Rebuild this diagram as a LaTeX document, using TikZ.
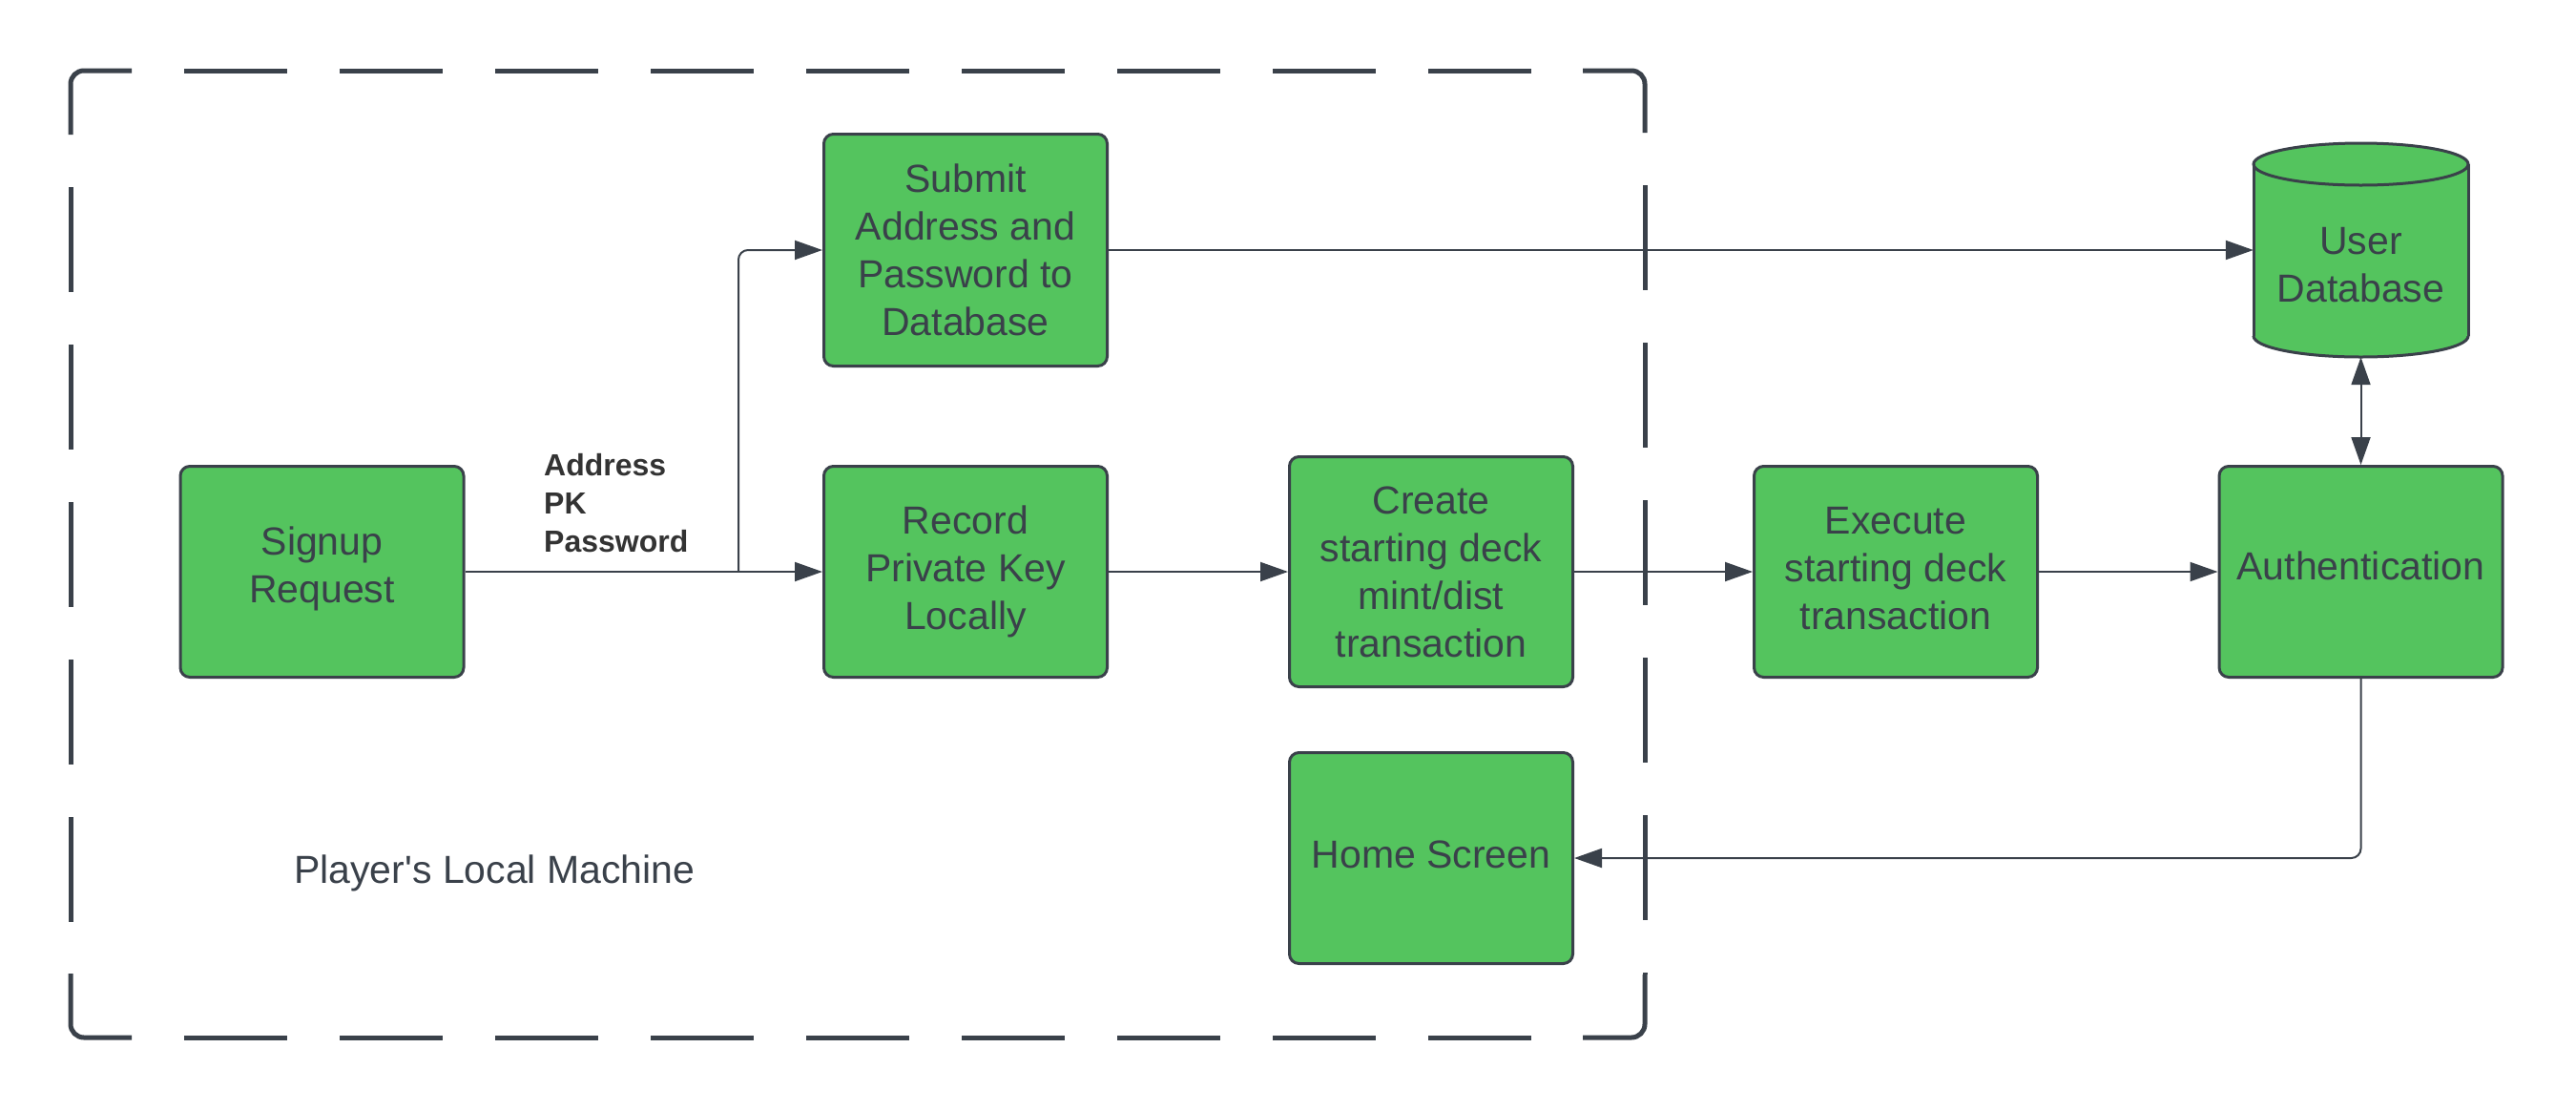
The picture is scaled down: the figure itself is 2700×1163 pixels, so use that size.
\documentclass[tikz,border=0pt]{standalone}
\usepackage{fontspec}
\setmainfont{Liberation Sans}
\usetikzlibrary{arrows.meta}
\definecolor{lgreen}{HTML}{54C45E}
\definecolor{ink}{HTML}{3A414A}
\definecolor{lbl}{HTML}{333333}
\begin{document}
\begin{tikzpicture}[x=1pt,y=-1pt,
  procbox/.style={draw=ink, fill=lgreen, line width=3pt, rounded corners=10pt,
    minimum width=297pt, minimum height=221pt, inner sep=0pt, align=center,
    text=ink, font=\fontsize{41}{50}\selectfont},
  conn/.style={draw=ink, line width=2pt, -{Triangle[length=29pt,width=20pt]}},
  dconn/.style={draw=ink, line width=2pt, {Triangle[length=29pt,width=20pt]}-{Triangle[length=29pt,width=20pt]}},
  frameline/.style={draw=ink, line width=5pt},
  hdash/.style={frameline, dash pattern=on 108pt off 55pt, dash phase=108pt},
  vdash/.style={frameline, dash pattern=on 110pt off 55pt, dash phase=110pt}]
\useasboundingbox (0,0) rectangle (2700,1163);

% dashed frame: corners
\draw[frameline, rounded corners=14pt] (74,141) -- (74,74) -- (138,74);
\draw[frameline, rounded corners=14pt] (1659,74) -- (1724,74) -- (1724,139);
\draw[frameline, rounded corners=14pt] (1724,1021) -- (1724,1087) -- (1659,1087);
\draw[frameline, rounded corners=14pt] (138,1087) -- (74,1087) -- (74,1020);
% dashed frame: sides
\draw[hdash] (138,74) -- (1659,74);
\draw[hdash] (138,1087) -- (1659,1087);
\draw[vdash] (74,141) -- (74,1020);
\draw[vdash] (1724,139) -- (1724,1021);

% boxes
\node[procbox, text depth=15pt] (signup) at (337.5,599) {Signup\\Request};
\node[procbox, minimum height=243pt] (submit) at (1012,262) {Submit\\Address and\\Password to\\Database};
\node[procbox] (record) at (1012,599) {Record\\Private Key\\Locally};
\node[procbox, minimum height=241pt] (create) at (1500,599) {Create\\starting deck\\mint/dist\\transaction};
\node[procbox, text depth=8pt] (home) at (1500,899) {Home Screen};
\node[procbox, text depth=8pt] (exec) at (1987,599) {Execute\\starting deck\\transaction};
\node[procbox, text depth=12pt] (auth) at (2474.5,599) {Authentication};

% database cylinder
\fill[lgreen] (2362,172) rectangle (2587,352);
\fill[lgreen] (2474.5,352) ellipse [x radius=112.5pt, y radius=22pt];
\fill[lgreen] (2474.5,172) ellipse [x radius=112.5pt, y radius=22pt];
\draw[ink, line width=3pt] (2474.5,172) ellipse [x radius=112.5pt, y radius=22pt];
\draw[ink, line width=3pt] (2362,172) -- (2362,352);
\draw[ink, line width=3pt] (2587,172) -- (2587,352);
\begin{scope}
  \clip (2340,352) rectangle (2610,400);
  \draw[ink, line width=3pt] (2474.5,352) ellipse [x radius=112.5pt, y radius=22pt];
\end{scope}
\node[minimum width=225pt, minimum height=192pt, inner sep=0pt, align=center,
  text=ink, font=\fontsize{41}{50}\selectfont] (db) at (2474.5,278) {User\\Database};

% labels
\node[anchor=west, align=left, text=lbl, inner sep=0pt,
  font=\bfseries\fontsize{32}{40}\selectfont] (lab) at (570,527) {Address\\PK\\Password};
\node[anchor=west, text=ink, inner sep=0pt, font=\fontsize{41}{50}\selectfont]
  (machine) at (308,915) {Player\textquotesingle s Local Machine};

% connectors
\coordinate (split) at (774,599);
\draw[conn] (signup.east) -- (record.west);
\draw[conn, rounded corners=10pt] (split) |- (submit.west);
\draw[conn] (submit.east) -- (submit.east -| db.west);
\draw[conn] (record.east) -- (create.west);
\draw[conn] (create.east) -- (exec.west);
\draw[conn] (exec.east) -- (auth.west);
\draw[dconn] (auth.north) -- (db.south);
\draw[conn, rounded corners=10pt] (auth.south) |- (home.east);
\end{tikzpicture}
\end{document}
